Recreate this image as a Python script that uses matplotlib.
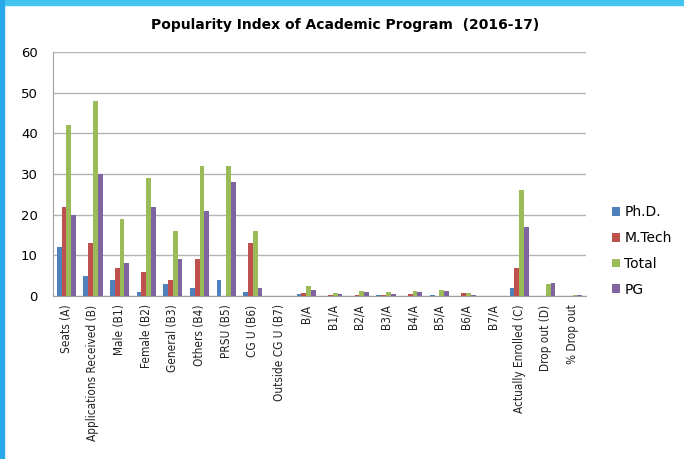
"""
Popularity index bar chart
"""
import matplotlib
matplotlib.use("Agg")
import matplotlib.pyplot as plt
from matplotlib.patches import Rectangle
import numpy as np

categories = [
    "Seats (A)", "Applications Received (B)", "Male (B1)", "Female (B2)",
    "General (B3)", "Others (B4)", "PRSU (B5)", "CG U (B6)",
    "Outside CG U (B7)", "B/A", "B1/A", "B2/A", "B3/A", "B4/A", "B5/A",
    "B6/A", "B7/A", "Actually Enrolled (C)", "Drop out (D)", "% Drop out",
]
phd = [12, 5, 4, 1, 3, 2, 4, 1, 0, 0.5, 0, 0, 0.3, 0, 0.3, 0, 0, 2, 0, 0]
mtech = [22, 13, 7, 6, 4, 9, 0, 13, 0, 0.7, 0.3, 0.3, 0.2, 0.5, 0, 0.7, 0, 7, 0, 0]
total = [42, 48, 19, 29, 16, 32, 32, 16, 0, 2.5, 0.8, 1.3, 1.0, 1.2, 1.5, 0.8, 0, 26, 3, 0.15]
pg = [20, 30, 8, 22, 9, 21, 28, 2, 0, 1.5, 0.5, 1.1, 0.5, 1.1, 1.3, 0.2, 0, 17, 3.3, 0.15]

series = [("Ph.D.", phd, "#4F81BD"), ("M.Tech", mtech, "#C0504D"),
          ("Total", total, "#9BBB59"), ("PG", pg, "#8064A2")]


def main():
    """
    draw the chart
    """
    fig = plt.figure(figsize=(6.84, 4.59), dpi=100)
    ax = fig.add_axes([0.0775, 0.355, 0.779, 0.532])

    xnp = np.arange(len(categories))
    width = 0.18
    for i, (name, vals, col) in enumerate(series):
        ax.bar(xnp + (i - 1.5) * width, vals, width, color=col, label=name,
               zorder=3)

    ax.set_xlim(-0.5, len(categories) - 0.5)
    ax.set_ylim(0, 60)
    ax.set_yticks(range(0, 61, 10))
    ax.yaxis.grid(True, color="#b4b4b4", linewidth=1.0, zorder=0)
    ax.set_xticks(xnp)
    ax.set_xticklabels(categories, rotation=90, fontsize=8.5,
                       fontstretch="condensed", color="#222222")
    ax.tick_params(axis="both", length=0)
    ax.tick_params(axis="y", pad=11, labelsize=9.5)
    ax.tick_params(axis="x", pad=6)
    for side in ["top", "right"]:
        ax.spines[side].set_visible(False)
    for side in ["left", "bottom"]:
        ax.spines[side].set_color("#a0a0a0")

    fig.text(0.505, 0.945, "Popularity Index of Academic Program  (2016-17)",
             ha="center", va="center", fontsize=10, fontweight="bold")

    ax.legend(loc="upper left", bbox_to_anchor=(0.876, 0.58),
              bbox_transform=fig.transFigure, frameon=False, fontsize=10,
              handlelength=0.6, handleheight=0.6, handletextpad=0.3,
              labelspacing=0.85)

    # blue window edge at top and left
    fig.patches.append(Rectangle((0, 1 - 5 / 459), 1, 5 / 459,
                                 transform=fig.transFigure, color="#45c4f0"))
    fig.patches.append(Rectangle((0, 0), 4 / 684, 1,
                                 transform=fig.transFigure, color="#2aa8ec"))

    fig.savefig("out.png", dpi=100)


if __name__ == "__main__":
    main()
